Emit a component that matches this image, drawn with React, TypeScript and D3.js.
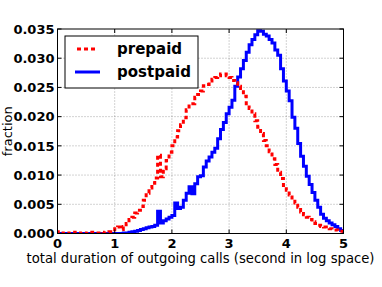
import React from "react";
import * as d3 from "d3";

// histogram bins: left edges 0, 0.05, ..., 4.95
const binWidth = 0.05;

const prepaid = [
  0.0003, 0.0001, 0.0, 0.0001, 0.0, 0.0, 0.0002, 0.0001, 0.0, 0.0001,
  0.0, 0.0001, 0.0002, 0.0001, 0.0001, 0.0002, 0.0001, 0.0002, 0.0003, 0.0003,
  0.0008, 0.0011, 0.0007, 0.0012, 0.0017, 0.0024, 0.0028, 0.0035, 0.004, 0.0046,
  0.0057, 0.0069, 0.0078, 0.0086, 0.0095, 0.0134, 0.0097, 0.0111, 0.0125, 0.0139,
  0.015, 0.0165, 0.0176, 0.0186, 0.0198, 0.0212, 0.0222, 0.0222, 0.0233, 0.0238,
  0.0244, 0.0253, 0.0255, 0.0261, 0.0264, 0.0267, 0.027, 0.0273, 0.0273, 0.027,
  0.0267, 0.0262, 0.0258, 0.0252, 0.0248, 0.0235, 0.0222, 0.0214, 0.0205, 0.0193,
  0.0182, 0.0171, 0.0159, 0.015, 0.014, 0.0128, 0.0118, 0.0105, 0.0094, 0.0082,
  0.0074, 0.0066, 0.0058, 0.0052, 0.0045, 0.0037, 0.0032, 0.0028, 0.0024, 0.002,
  0.0017, 0.0014, 0.0012, 0.0011, 0.0009, 0.0008, 0.0006, 0.0006, 0.0004, 0.0004,
];

const postpaid = [
  0, 0, 0, 0, 0, 0, 0, 0, 0, 0,
  0, 0, 0, 0, 0, 0, 0, 0, 0, 0,
  0, 0, 0, 0.0001, 0.0001, 0.0002, 0.0003, 0.0004, 0.0005, 0.0007,
  0.0008, 0.001, 0.0011, 0.0012, 0.0014, 0.0038, 0.0018, 0.0022, 0.0025, 0.0028,
  0.0031, 0.0052, 0.0043, 0.0045, 0.0057, 0.0069, 0.008, 0.0068, 0.0085, 0.0097,
  0.0099, 0.0114, 0.0124, 0.0131, 0.0139, 0.0146, 0.0162, 0.0178, 0.019, 0.0205,
  0.0216, 0.0228, 0.0252, 0.0268, 0.0282, 0.0296, 0.031, 0.0323, 0.0332, 0.034,
  0.0347, 0.0346, 0.0341, 0.0338, 0.0332, 0.0326, 0.0314, 0.0305, 0.0282, 0.0261,
  0.0244, 0.0227, 0.0199, 0.018, 0.0154, 0.0132, 0.0115, 0.0098, 0.0084, 0.007,
  0.0057, 0.0045, 0.0033, 0.0026, 0.0022, 0.0018, 0.0015, 0.0012, 0.0008, 0.0005,
];

const xTicks = [0, 1, 2, 3, 4, 5];
const yTicks = [0, 0.005, 0.01, 0.015, 0.02, 0.025, 0.03, 0.035];

const W = 382;
const H = 287;
const m = { left: 57.5, right: 38.5, top: 29, bottom: 53.5 };
const font = "DejaVu Sans, sans-serif";

const stepPoints = (vals: number[]) => {
  const pts: [number, number][] = [[0, 0]];
  vals.forEach((v, i) => pts.push([i * binWidth, v]));
  pts.push([vals.length * binWidth, vals[vals.length - 1]]);
  pts.push([vals.length * binWidth, 0]);
  return pts;
};

const App = () => {
  const x = d3.scaleLinear().domain([0, 5]).range([m.left, W - m.right]);
  const y = d3.scaleLinear().domain([0, 0.035]).range([H - m.bottom, m.top]);
  const line = d3
    .line<[number, number]>()
    .x(d => x(d[0]))
    .y(d => y(d[1]))
    .curve(d3.curveStepAfter);

  const x0 = x(0), x1 = x(5), y0 = y(0), y1 = y(0.035);

  return (
    <svg width={W} height={H} style={{ position: "absolute", left: 0, top: 0, background: "white" }}>
      <defs>
        <clipPath id="plot">
          <rect x={x0} y={y1 - 2} width={x1 - x0} height={y0 - y1 + 2} />
        </clipPath>
      </defs>
      {/* grid */}
      {xTicks.slice(1, -1).map(t => (
        <line key={"gx" + t} x1={x(t)} x2={x(t)} y1={y0} y2={y1}
          stroke="#000" strokeOpacity={0.45} strokeWidth={0.8} strokeDasharray="1,2" />
      ))}
      {yTicks.slice(1, -1).map(t => (
        <line key={"gy" + t} x1={x0} x2={x1} y1={y(t)} y2={y(t)}
          stroke="#000" strokeOpacity={0.45} strokeWidth={0.8} strokeDasharray="1,2" />
      ))}
      <g clipPath="url(#plot)">
        <path d={line(stepPoints(postpaid)) || ""} fill="none" stroke="#0000ff" strokeWidth={3} />
        <path d={line(stepPoints(prepaid)) || ""} fill="none" stroke="#ff0000" strokeWidth={3}
          strokeDasharray="4,3" />
      </g>
      {/* frame */}
      <rect x={x0} y={y1} width={x1 - x0} height={y0 - y1} fill="none" stroke="#000" strokeWidth={1} />
      {/* ticks */}
      {xTicks.map(t => (
        <g key={"xt" + t}>
          <line x1={x(t)} x2={x(t)} y1={y0} y2={y0 - 4} stroke="#000" />
          <line x1={x(t)} x2={x(t)} y1={y1} y2={y1 + 4} stroke="#000" />
          <text x={x(t)} y={y0 + 14} textAnchor="middle" fontFamily={font} fontWeight="bold" fontSize={13}>
            {t}
          </text>
        </g>
      ))}
      {yTicks.map(t => (
        <g key={"yt" + t}>
          <line x1={x0} x2={x0 + 4} y1={y(t)} y2={y(t)} stroke="#000" />
          <line x1={x1} x2={x1 - 4} y1={y(t)} y2={y(t)} stroke="#000" />
          <text x={x0 - 3} y={y(t)} dy="0.36em" textAnchor="end" fontFamily={font} fontWeight="bold" fontSize={13}>
            {d3.format(".3f")(t)}
          </text>
        </g>
      ))}
      {/* axis labels */}
      <text x={(x0 + x1) / 2} y={263} textAnchor="middle" fontFamily={font} fontSize={13.2}>
        total duration of outgoing calls (second in log space)
      </text>
      <text transform={`translate(12,${(y0 + y1) / 2}) rotate(-90)`} textAnchor="middle" fontFamily={font} fontSize={13}>
        fraction
      </text>
      {/* legend */}
      <g>
        <rect x={65} y={36} width={133} height={52} fill="white" stroke="#000" strokeWidth={1} />
        <line x1={77} x2={97} y1={49} y2={49} stroke="#ff0000" strokeWidth={3} strokeDasharray="4,3" />
        <line x1={75} x2={100} y1={72} y2={72} stroke="#0000ff" strokeWidth={3} />
        <text x={117} y={49} dy="0.36em" fontFamily={font} fontWeight="bold" fontSize={15}>prepaid</text>
        <text x={117} y={72} dy="0.36em" fontFamily={font} fontWeight="bold" fontSize={15}>postpaid</text>
      </g>
    </svg>
  );
};

export default App;
